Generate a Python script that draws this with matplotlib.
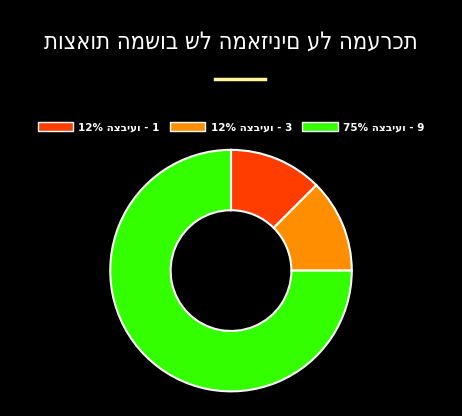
import matplotlib
matplotlib.use("Agg")
import matplotlib.pyplot as plt
from matplotlib.patches import Patch
from matplotlib.lines import Line2D

labels = ["12% הצביעו - 1", "12% הצביעו - 3", "75% הצביעו - 9"]
values = [12.5, 12.5, 75]
colors = ["#ff3d00", "#ff8f00", "#33ff00"]
title = "תוצאות המשוב של המאזינים על המערכת"

plt.rcParams['font.family'] = ['DejaVu Sans']
fig = plt.figure(figsize=(4.62, 4.16), dpi=100, facecolor="black")
fig.text(0.5, 0.9, title, color="white", fontsize=17, ha="center", va="center",
         fontweight="light", fontstretch="condensed")
fig.add_artist(Line2D([215/462, 265/462], [1-79/416]*2, color="#fff59d", lw=2.5))

ax = fig.add_axes([0.236, 0.056, 0.528, 0.587])
ax.set_facecolor("black")
ax.pie(values, colors=colors, startangle=90, counterclock=False,
       wedgeprops=dict(width=0.5, edgecolor="white", linewidth=1.5))
ax.set_xlim(-1.01, 1.01)
ax.set_ylim(-1.01, 1.01)
ax.set_aspect("equal")

handles = [Patch(facecolor=c, edgecolor="white", linewidth=1) for c in colors]
leg = fig.legend(handles, labels, loc="center", bbox_to_anchor=(0.5, 1-127/416), ncol=3,
                 frameon=False, fontsize=7.5, handlelength=3.4, handleheight=1.0,
                 columnspacing=1.0, handletextpad=0.5)
for t in leg.get_texts():
    t.set_color("white")
    t.set_fontweight("bold")
fig.savefig("out.png", dpi=100, facecolor="black")
